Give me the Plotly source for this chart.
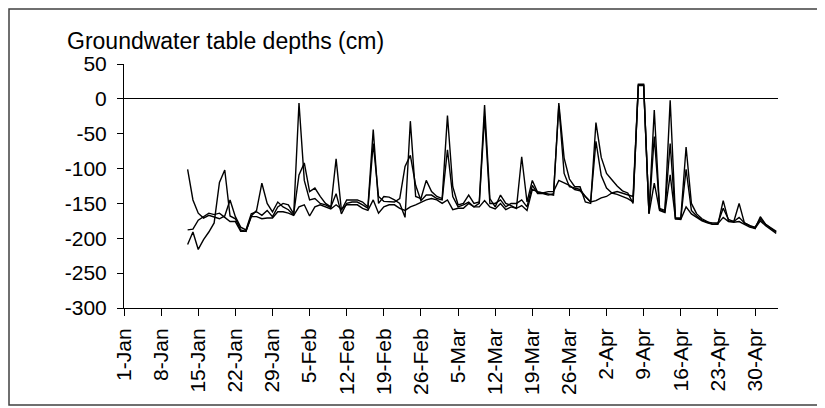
# Groundwater table depths, three wells, Jan-May
import pandas as pd
import plotly.graph_objects as go

start_date = "2023-01-13"

# well 1 - the spiky one
well_a = [
    -209, -191, -216, -202, -191, -178, -120, -102, -168, -172,
    -188, -190, -168, -160, -121, -150, -162, -148, -155, -159,
    -167, -6, -117, -145, -143, -150, -152, -156, -86, -160,
    -145, -145, -145, -148, -155, -44, -150, -140, -141, -145,
    -150, -170, -32, -140, -143, -117, -133, -140, -143, -24,
    -126, -152, -150, -138, -150, -148, -9, -143, -155, -138,
    -150, -153, -157, -83, -148, -117, -134, -135, -136, -138,
    -6, -85, -115, -126, -126, -148, -150, -34, -84, -107,
    -116, -125, -132, -135, -150, 21, 21, -164, -16, -158,
    -162, -2, -171, -171, -69, -150, -165, -172, -176, -180,
    -180, -146, -175, -176, -150, -178, -182, -186, -169, -180,
    -186, -191,
]

# well 2
well_b = [
    -101, -145, -164, -171, -167, -169, -172, -168, -145, -169,
    -184, -188, -165, -162, -167, -160, -169, -155, -150, -152,
    -165, -109, -92, -133, -128, -140, -150, -155, -136, -165,
    -150, -148, -148, -152, -157, -64, -140, -147, -147, -148,
    -143, -97, -81, -124, -146, -138, -138, -143, -145, -73,
    -140, -155, -152, -148, -155, -150, -25, -150, -150, -145,
    -155, -150, -150, -145, -155, -124, -136, -136, -138, -136,
    -10, -107, -126, -128, -130, -140, -148, -61, -110, -128,
    -135, -133, -135, -138, -140, 20, 20, -164, -54, -157,
    -160, -64, -172, -172, -101, -160, -168, -174, -177, -178,
    -178, -157, -173, -176, -170, -178, -182, -184, -172, -180,
    -185, -190,
]

# well 3 - the smooth one
well_c = [
    -188, -187, -174, -169, -164, -166, -164, -170, -176, -176,
    -190, -190, -169, -169, -172, -171, -171, -162, -162, -164,
    -167, -155, -152, -168, -155, -152, -155, -158, -152, -158,
    -152, -152, -152, -157, -160, -145, -164, -155, -152, -152,
    -157, -160, -155, -152, -148, -145, -143, -145, -150, -145,
    -159, -157, -157, -150, -155, -155, -146, -155, -158, -150,
    -159, -155, -157, -153, -160, -130, -133, -135, -133, -133,
    -117, -120, -124, -130, -132, -140, -148, -146, -142, -140,
    -135, -137, -140, -143, -148, 19, 19, -165, -121, -160,
    -163, -109, -172, -173, -155, -165, -170, -175, -178, -180,
    -179, -170, -176, -177, -176, -180, -184, -186, -175, -182,
    -187, -193,
]

# y ticks written with a plain hyphen, as in the original
y_tickvals = [50, 0, -50, -100, -150, -200, -250, -300]
y_ticktext = ["50", "0", "-50", "-100", "-150", "-200", "-250", "-300"]

dates = pd.date_range(start_date, periods=len(well_a), freq="D")

fig = go.Figure()
for series in [well_a, well_b, well_c]:
    fig.add_trace(
        go.Scatter(
            x=dates,
            y=series,
            mode="lines",
            line=dict(color="black", width=1.4),
            showlegend=False,
        )
    )

# the page body adds 8px on top/left, so the figure is 8px smaller
fig.update_layout(
    width=817,
    height=400,
    margin=dict(l=116, r=47, t=56, b=100),
    paper_bgcolor="white",
    plot_bgcolor="white",
    font=dict(family="Liberation Sans, Arial, sans-serif", size=21, color="black"),
    title=dict(
        text="Groundwater table depths (cm)",
        x=59 / 817,
        xanchor="left",
        y=1 - 33 / 400,
        yanchor="middle",
        font=dict(size=23, color="black"),
    ),
)

fig.update_xaxes(
    range=["2023-01-01", "2023-05-04 08:00"],
    tick0="2023-01-01",
    dtick=7 * 24 * 3600 * 1000,
    tickformat="%-d-%b",
    tickangle=-90,
    ticks="outside",
    ticklen=7,
    tickcolor="black",
    ticklabelstandoff=4,
    showline=True,
    linecolor="black",
    linewidth=1,
    showgrid=False,
    zeroline=False,
)

fig.update_yaxes(
    range=[-300, 50],
    tickvals=y_tickvals,
    ticktext=y_ticktext,
    ticks="outside",
    ticklen=6,
    tickcolor="black",
    ticklabelstandoff=6,
    showline=True,
    linecolor="black",
    linewidth=1,
    showgrid=False,
    zeroline=True,
    zerolinecolor="black",
    zerolinewidth=1.2,
)

# frame round the whole chart
fig.add_shape(
    type="rect",
    xref="paper",
    yref="paper",
    x0=(1 - 116) / 654,
    x1=(812 - 116) / 654,
    y0=(300 - 397) / 244,
    y1=(300 - 1) / 244,
    line=dict(color="#404040", width=1.5),
)

fig.write_html("out.html")
